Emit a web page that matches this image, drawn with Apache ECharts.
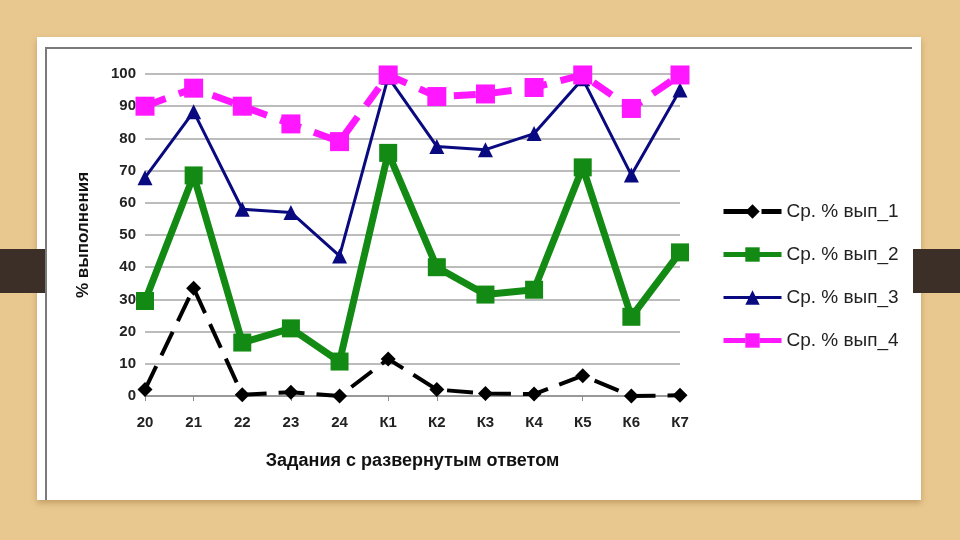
<!DOCTYPE html>
<html><head><meta charset="utf-8">
<script src="https://cdn.jsdelivr.net/npm/echarts@6/dist/echarts.min.js"></script>
<style>html,body{margin:0;padding:0;background:#e9c890;}#c{width:960px;height:540px;}</style>
</head><body><div id="c"></div>
<script>
const categories = ['20','21','22','23','24','К1','К2','К3','К4','К5','К6','К7'];
const seriesNames = ['Ср. % вып_1','Ср. % вып_2','Ср. % вып_3','Ср. % вып_4'];
const vyp1 = [2, 33.5, 0.4, 1.2, 0, 11.5, 2, 0.8, 0.6, 6.3, 0, 0.2];
const vyp2 = [29.5, 68.5, 16.6, 21, 10.7, 75.5, 40, 31.5, 33, 71, 24.6, 44.6];
const vyp3 = [67.8, 88.3, 58, 57, 43.5, 99, 77.5, 76.5, 81.5, 98.5, 68.6, 95];
const vyp4 = [90, 95.6, 90, 84.5, 79, 99.7, 93, 93.8, 95.8, 99.7, 89.3, 99.7];
const yTicks = {min: 0, max: 100, interval: 10};

const colors = ['#000000', '#138a13', '#0a0a80', '#ff18ff'];
const chart = echarts.init(document.getElementById('c'));
const font = '"Liberation Sans",sans-serif';
chart.setOption({
  animation: false,
  backgroundColor: '#e9c890',
  graphic: [
    {type: 'rect', shape: {x: 37, y: 37, width: 884, height: 463}, style: {fill: '#ffffff', shadowBlur: 6, shadowColor: 'rgba(120,80,20,0.35)', shadowOffsetY: 3}, z: -5},
    {type: 'rect', shape: {x: 0, y: 249, width: 46, height: 44}, style: {fill: '#3b2f27'}, z: -3},
    {type: 'rect', shape: {x: 913, y: 249, width: 47, height: 44}, style: {fill: '#3b2f27'}, z: -3},
    {type: 'polyline', shape: {points: [[46, 500], [46, 48], [912, 48]]}, style: {stroke: '#7a7a7a', lineWidth: 2, fill: null}, z: -2}
  ],
  grid: {left: 145, right: 280, top: 74, bottom: 144},
  legend: {
    orient: 'vertical', left: 716, top: 197, itemGap: 24, itemWidth: 58, itemHeight: 18,
    textStyle: {fontSize: 19, color: '#222', fontFamily: font},
    data: seriesNames.map((n, i) => ({
      name: n,
      lineStyle: {width: i === 2 ? 3 : 5, color: colors[i]},
      itemStyle: {color: colors[i]}
    }))
  },
  xAxis: {
    type: 'category', data: categories, boundaryGap: false,
    axisLine: {lineStyle: {color: '#8c8c8c', width: 1.5}},
    axisTick: {show: true, length: 5, lineStyle: {color: '#8c8c8c'}},
    axisLabel: {color: '#222', fontSize: 15, fontWeight: 'bold', fontFamily: font, margin: 19},
    name: 'Задания с развернутым ответом', nameLocation: 'middle', nameGap: 56,
    nameTextStyle: {color: '#111', fontSize: 18, fontWeight: 'bold', fontFamily: font}
  },
  yAxis: {
    type: 'value', min: yTicks.min, max: yTicks.max, interval: yTicks.interval,
    axisLine: {show: false},
    axisTick: {show: false},
    splitLine: {lineStyle: {color: '#a6a6a6', width: 1.5}},
    axisLabel: {color: '#222', fontSize: 15, fontWeight: 'bold', fontFamily: font, margin: 9},
    name: '% выполнения', nameLocation: 'middle', nameGap: 53, nameRotate: 90,
    nameTextStyle: {color: '#111', fontSize: 17, fontWeight: 'bold', fontFamily: font}
  },
  series: [
    {name: seriesNames[0], type: 'line', data: vyp1, symbol: 'diamond', symbolSize: 15,
     itemStyle: {color: colors[0]}, lineStyle: {color: colors[0], width: 4, type: [26, 12]}},
    {name: seriesNames[1], type: 'line', data: vyp2, symbol: 'rect', symbolSize: 18,
     itemStyle: {color: colors[1]}, lineStyle: {color: colors[1], width: 7}},
    {name: seriesNames[2], type: 'line', data: vyp3, symbol: 'triangle', symbolSize: 15,
     itemStyle: {color: colors[2]}, lineStyle: {color: colors[2], width: 3}},
    {name: seriesNames[3], type: 'line', data: vyp4, symbol: 'rect', symbolSize: 19,
     itemStyle: {color: colors[3]}, lineStyle: {color: colors[3], width: 7, type: [22, 14]}}
  ]
});
</script></body></html>
